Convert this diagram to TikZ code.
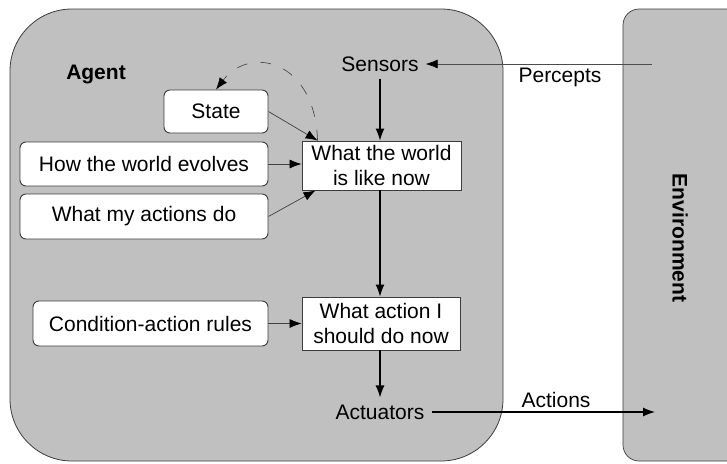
\documentclass[tikz,border=0pt]{standalone}
\usepackage{fontspec}
\setmainfont{Liberation Sans}
\usetikzlibrary{arrows.meta,calc}
\definecolor{panel}{RGB}{192,192,192}
\definecolor{edge}{RGB}{60,60,60}
\tikzset{
  every node/.style={font=\fontsize{21}{25}\selectfont},
  rbox/.style={draw=edge, line width=0.9pt, fill=white, rounded corners=6pt, inner sep=0pt, align=center},
  sbox/.style={draw=edge, line width=0.9pt, fill=white, inner sep=0pt, align=center},
  plain/.style={inner sep=7pt},
  tip/.style={-{Latex[length=12pt,width=9pt,black]}},
  thick arrow/.style={tip, line width=1.2pt, black},
  thin arrow/.style={tip, line width=0.7pt, black!75},
}
\begin{document}
\begin{tikzpicture}[x=1pt,y=-1pt]
\useasboundingbox (0,0) rectangle (727,463);
% panels
\filldraw[fill=panel, draw=edge, line width=0.8pt, rounded corners=62pt] (10,9) rectangle (503,461);
\filldraw[fill=panel, draw=edge, line width=0.7pt, rounded corners=16pt] (623,9) rectangle (760,461);

% labels
\node[font=\fontsize{21}{25}\selectfont\bfseries] (agent) at (96,74) {Agent};
\node[font=\fontsize{21}{25}\selectfont\bfseries, rotate=-90] (env) at (680,238) {Environment};
\node[plain] (sensors) at (380,64) {Sensors};
\node[plain] (actuators) at (380,412) {Actuators};
\node (percepts) at (560,77) {Percepts};
\node (actions) at (556,400) {Actions};

% boxes
\node[rbox, minimum width=104pt, minimum height=43pt] (state) at (216,111.5) {State};
\node[rbox, minimum width=248pt, minimum height=44pt] (evolves) at (144,164) {How the world evolves};
\node[rbox, minimum width=248pt, minimum height=45pt] (mydo) at (144,216.5) {What my actions do};
\node[rbox, minimum width=235pt, minimum height=45pt] (rules) at (150.5,323.5) {Condition-action rules};
\node[sbox, minimum width=159pt, minimum height=49pt] (world) at (381.5,165.5) {What the world\\is like now};
\node[sbox, minimum width=158pt, minimum height=53pt] (action) at (381,323.5) {What action I\\should do now};

% free ends
\coordinate (penv) at (652,64);
\coordinate (aenv) at (655,412);

% connectors
\draw[tip, line width=0.6pt, black!70] (penv) -- (sensors.east);
\draw[thick arrow] (actuators.east) -- (aenv);
\draw[thick arrow] (sensors.south) -- (world.north -| sensors.south);
\draw[thick arrow] (world.south -| sensors.south) -- (action.north -| sensors.south);
\draw[thick arrow] (action.south -| sensors.south) -- (actuators.north);
\draw[thin arrow] (state.east) -- ($(world.north west)+(16,0)$);
\draw[thin arrow] (evolves.east) -- (world.west |- evolves.east);
\draw[thin arrow] (mydo.east) -- ($(world.south west)+(14,0)$);
\draw[thin arrow] (rules.east) -- (action.west |- rules.east);
\draw[tip, line width=0.6pt, black!75, dash pattern=on 11pt off 13pt]
  ($(world.north west)+(16,0)$) .. controls (315,60) and (250,45) .. (state.north);
\end{tikzpicture}
\end{document}
